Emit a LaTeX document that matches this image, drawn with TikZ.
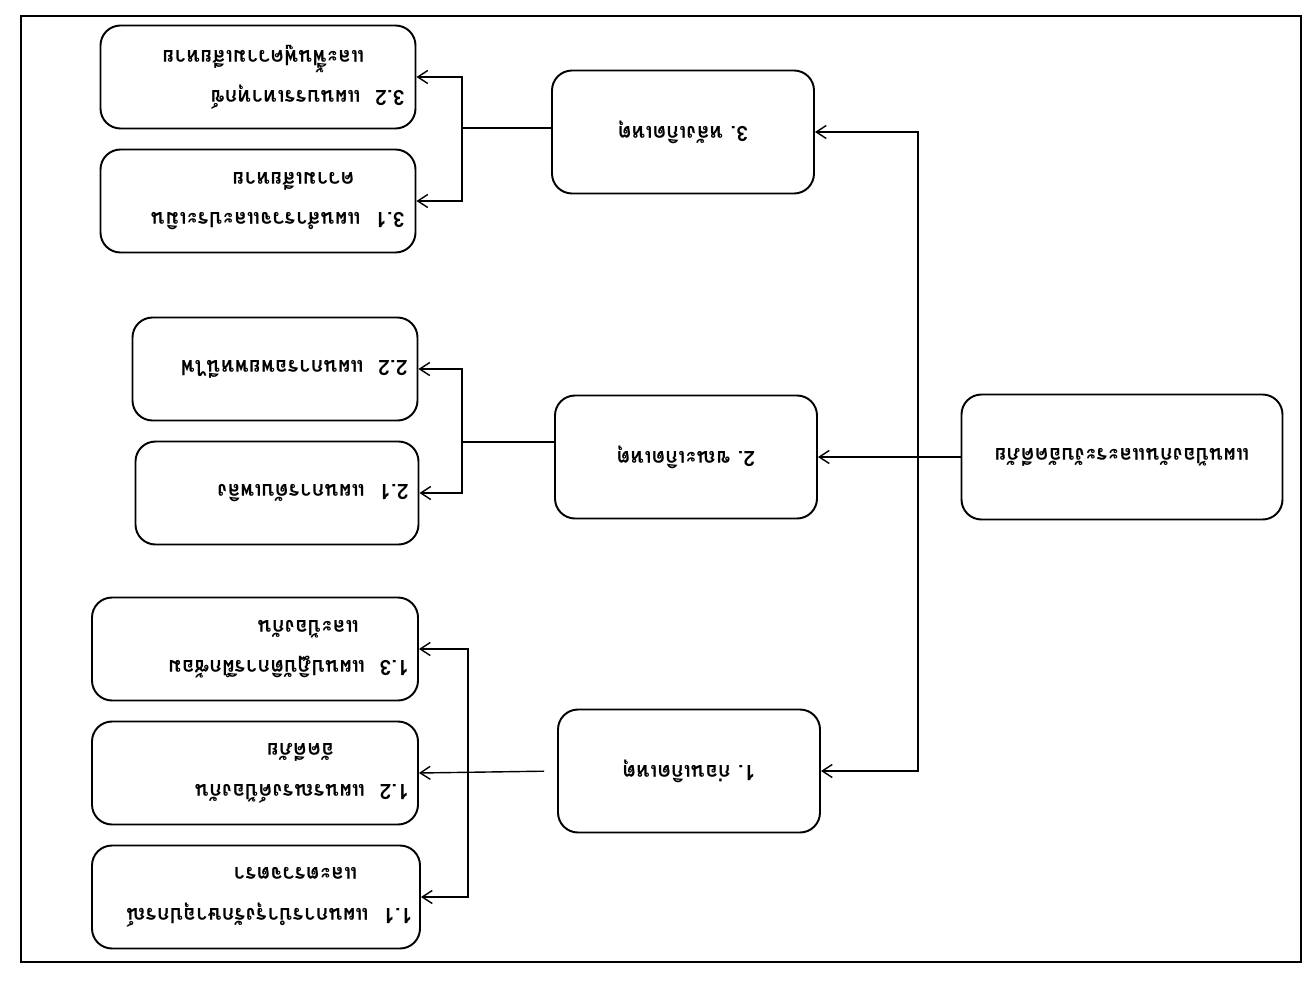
\documentclass[tikz,border=0pt]{standalone}
\usepackage{fontspec}
\usepackage{graphicx}
\newfontfamily\thaifont[Script=Thai]{Loma}
\usetikzlibrary{arrows.meta,positioning}

% text of a box, turned upside down as in the scan
\newcommand{\flipped}[2]{\rotatebox[origin=c]{180}{\parbox{#1}{#2}}}

\begin{document}
\begin{tikzpicture}[x=0.2mm, y=-0.2mm,
  box/.style={draw, line width=1.1pt, rounded corners=4mm, inner sep=0pt,
              font=\thaifont\bfseries\fontsize{12}{23}\selectfont},
  mainbox/.style={box, minimum width=64.2mm, minimum height=25mm},
  phasebox/.style={box, minimum width=52.4mm, minimum height=24.6mm},
  subbox/.style={box, minimum height=20.6mm},
  arr/.style={-{Straight Barb[length=2mm,width=2.6mm]}, line width=0.8pt}]

\useasboundingbox (0,0) rectangle (1309,987);
\draw[line width=0.6pt] (21,16) rectangle (1301,962);

% === Plan ===
\node[mainbox] (main) at (1122,457)
     {\flipped{60mm}{\centering แผนป้องกันและระงับอัคคีภัย}};

% === Phases ===
\node[phasebox] (ph3) at (683,132) {\flipped{48mm}{\centering 3.\ หลังเกิดเหตุ}};
\node[phasebox] (ph2) at (686,457) {\flipped{48mm}{\centering 2.\ ขณะเกิดเหตุ}};
\node[phasebox] (ph1) at (689,771) {\flipped{48mm}{\centering 1.\ ก่อนเกิดเหตุ}};

% === After ===
\node[subbox, minimum width=63mm] (s32) at (258,77)
     {\flipped{58.6mm}{\raggedright 3.2\ \ แผนบรรเทาทุกข์\\\hspace*{8mm}และฟื้นฟูความเสียหาย}};
\node[subbox, minimum width=63mm] (s31) at (258,201)
     {\flipped{58.6mm}{\raggedright 3.1\ \ แผนสำรวจและประเมิน\\\hspace*{10mm}ความเสียหาย}};

% === During ===
\node[subbox, minimum width=57mm] (s22) at (275,369)
     {\flipped{53mm}{\raggedright 2.2\ \ แผนการอพยพหนีไฟ}};
\node[subbox, minimum width=56.6mm] (s21) at (277,493)
     {\flipped{52.6mm}{\raggedright 2.1\ \ แผนการดับเพลิง}};

% === Before ===
\node[subbox, minimum width=65.2mm] (s13) at (255,649)
     {\flipped{61.6mm}{\raggedright 1.3\ \ แผนปฏิบัติการฝึกซ้อม\\\hspace*{10mm}และป้องกัน}};
\node[subbox, minimum width=65.2mm] (s12) at (255,773)
     {\flipped{61.6mm}{\raggedright 1.2\ \ แผนรณรงค์ป้องกัน\\\hspace*{15mm}อัคคีภัย}};
\node[subbox, minimum width=65.6mm] (s11) at (256,897)
     {\flipped{62.6mm}{\raggedright 1.1\ \ แผนการบำรุงรักษาอุปกรณ์\\\hspace*{11mm}และตรวจตรา}};

% === Connectors ===
\coordinate (j0) at (918,457);
\coordinate (j3) at (462,128);
\coordinate (j2) at (462,442);
\coordinate (j1) at (468,771);

\draw[arr] (main.west) -- (ph2.east);
\draw[arr] (j0) |- (ph3.east);
\draw[arr] (j0) |- (ph1.east);

\draw[line width=0.8pt] (ph3.west |- j3) -- (j3);
\draw[arr] (j3) |- (s32.east);
\draw[arr] (j3) |- (s31.east);

\draw[line width=0.8pt] (ph2.west |- j2) -- (j2);
\draw[arr] (j2) |- (s22.east);
\draw[arr] (j2) |- (s21.east);

\draw[arr, shorten <=2.6mm] (ph1.west) -- (s12.east);
\draw[arr] (j1) |- (s13.east);
\draw[arr] (j1) |- (s11.east);

\end{tikzpicture}
\end{document}
